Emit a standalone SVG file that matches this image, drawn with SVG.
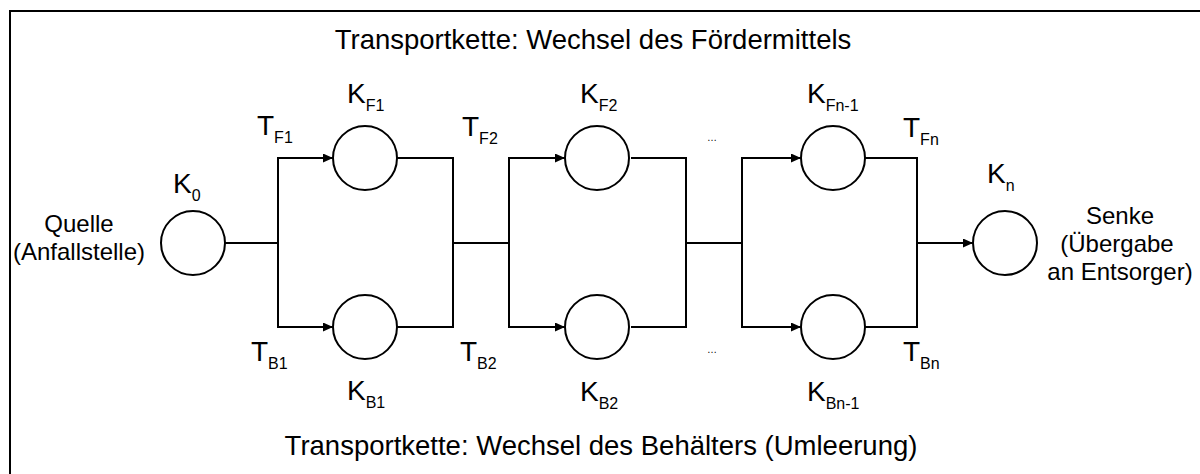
<svg xmlns="http://www.w3.org/2000/svg" width="1200" height="474" viewBox="0 0 1200 474">
<style>
text{font-family:"Liberation Sans",Arial,sans-serif;fill:#000}
.t{font-size:27.5px}
.l{font-size:28px}
.s{font-size:16px}
.side{font-size:24px}
.dots{font-size:10px}
.node circle{fill:#fff;stroke:#000;stroke-width:2}
.c line,.c path{stroke:#000;stroke-width:2;fill:none}
</style>
<defs>
<marker id="ah" markerUnits="userSpaceOnUse" markerWidth="11" markerHeight="9" refX="10" refY="4.5" orient="auto">
<path d="M0,0 L10,4.5 L0,9 z" fill="#000"/>
</marker>
</defs>
<rect width="1200" height="474" fill="#fff"/>
<path d="M10,474 V11 H1200" fill="none" stroke="#000" stroke-width="2"/>
<text class="t" x="593" y="49" text-anchor="middle">Transportkette: Wechsel des Fördermittels</text>
<text class="t" x="601" y="455" text-anchor="middle">Transportkette: Wechsel des Behälters (Umleerung)</text>
<g id="connectors" class="c">
<line x1="225" y1="243" x2="278" y2="243"/>
<line x1="278" y1="157" x2="278" y2="328"/>
<line x1="278" y1="158" x2="333" y2="158" marker-end="url(#ah)"/>
<line x1="278" y1="327" x2="333" y2="327" marker-end="url(#ah)"/>
<path d="M397,158 H453 V327 H397"/>
<line x1="453" y1="243" x2="509" y2="243"/>
<line x1="509" y1="157" x2="509" y2="328"/>
<line x1="509" y1="158" x2="565" y2="158" marker-end="url(#ah)"/>
<line x1="509" y1="327" x2="565" y2="327" marker-end="url(#ah)"/>
<path d="M631,158 H686 V327 H631"/>
<line x1="686" y1="243" x2="742" y2="243"/>
<line x1="742" y1="157" x2="742" y2="328"/>
<line x1="742" y1="158" x2="801" y2="158" marker-end="url(#ah)"/>
<line x1="742" y1="327" x2="801" y2="327" marker-end="url(#ah)"/>
<path d="M865,158 H917 V327 H865"/>
<line x1="917" y1="243" x2="973" y2="243" marker-end="url(#ah)"/>
</g>
<g id="K0" class="node">
<circle cx="193" cy="243" r="32"/>
<text class="l" x="173" y="193">K<tspan class="s" dy="8">0</tspan></text>
<text class="side" x="79" y="232" text-anchor="middle">Quelle</text>
<text class="side" x="79" y="260" text-anchor="middle">(Anfallstelle)</text>
</g>
<g id="KF1" class="node">
<circle cx="365" cy="158" r="32"/>
<text class="l" x="347" y="103">K<tspan class="s" dy="8">F1</tspan></text>
</g>
<g id="KB1" class="node">
<circle cx="365" cy="327" r="32"/>
<text class="l" x="347" y="400">K<tspan class="s" dy="8">B1</tspan></text>
</g>
<g id="KF2" class="node">
<circle cx="597" cy="158" r="32"/>
<text class="l" x="580" y="103">K<tspan class="s" dy="8">F2</tspan></text>
</g>
<g id="KB2" class="node">
<circle cx="597" cy="327" r="32"/>
<text class="l" x="580" y="401">K<tspan class="s" dy="8">B2</tspan></text>
</g>
<g id="KFn-1" class="node">
<circle cx="833" cy="158" r="32"/>
<text class="l" x="807" y="103">K<tspan class="s" dy="8">Fn-1</tspan></text>
</g>
<g id="KBn-1" class="node">
<circle cx="833" cy="327" r="32"/>
<text class="l" x="807" y="401">K<tspan class="s" dy="8">Bn-1</tspan></text>
</g>
<g id="Kn" class="node">
<circle cx="1005" cy="243" r="32"/>
<text class="l" x="987" y="183">K<tspan class="s" dy="8">n</tspan></text>
<text class="side" x="1120" y="224" text-anchor="middle">Senke</text>
<text class="side" x="1117" y="252" text-anchor="middle">(Übergabe</text>
<text class="side" x="1120" y="280" text-anchor="middle">an Entsorger)</text>
</g>
<g id="labels">
<text class="l" x="257" y="135">T<tspan class="s" dy="8">F1</tspan></text>
<text class="l" x="251" y="361">T<tspan class="s" dy="8">B1</tspan></text>
<text class="l" x="462" y="136">T<tspan class="s" dy="8">F2</tspan></text>
<text class="l" x="460" y="361">T<tspan class="s" dy="8">B2</tspan></text>
<text class="l" x="903" y="137">T<tspan class="s" dy="8">Fn</tspan></text>
<text class="l" x="903" y="361">T<tspan class="s" dy="8">Bn</tspan></text>
<text class="dots" x="707" y="141">…</text>
<text class="dots" x="707" y="353">…</text>
</g>
</svg>
